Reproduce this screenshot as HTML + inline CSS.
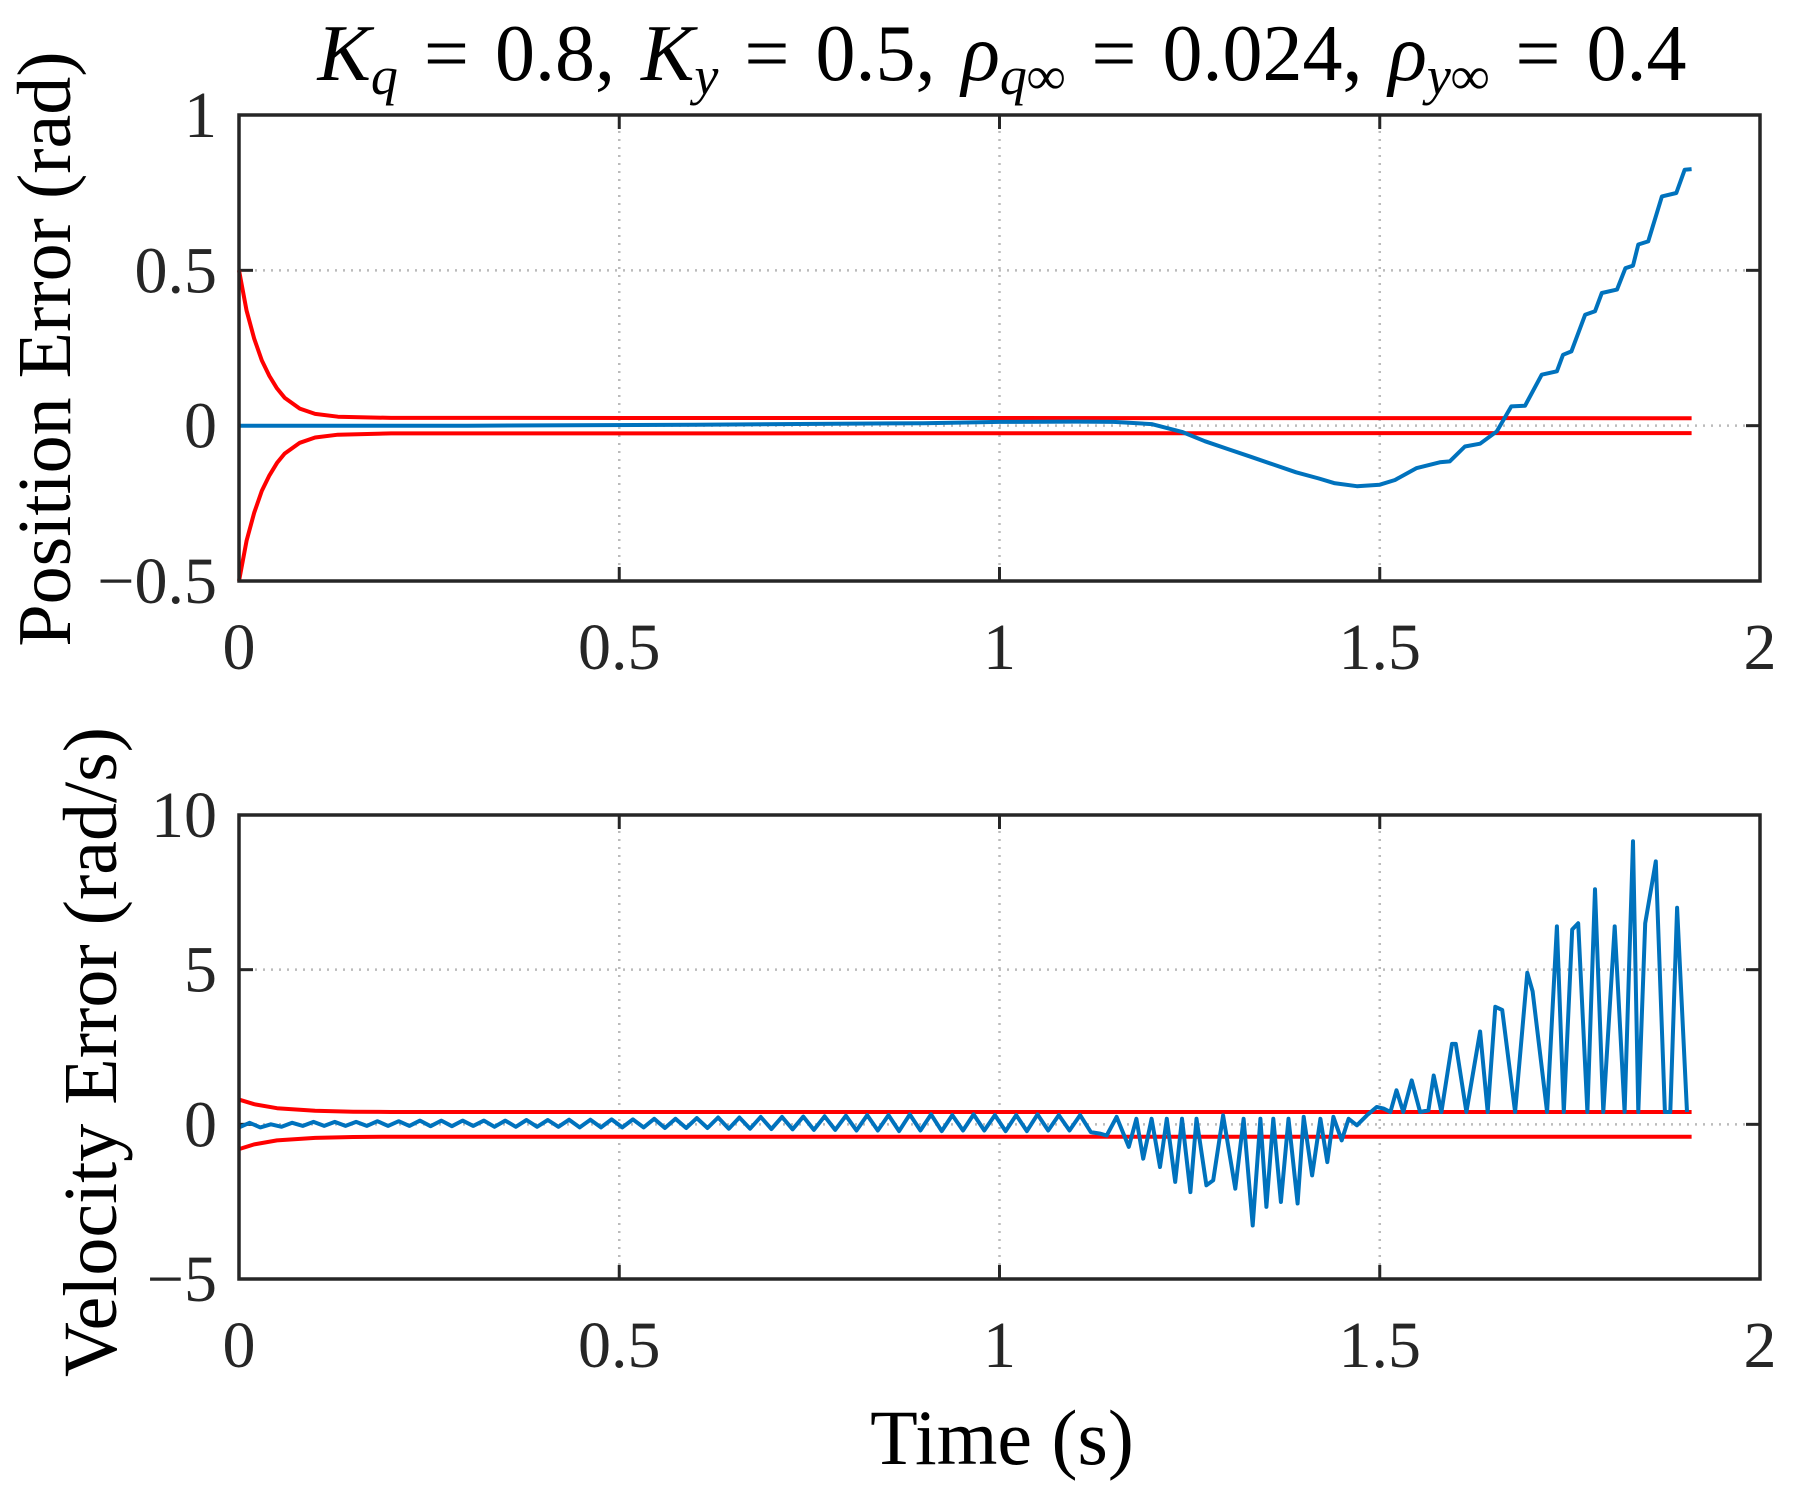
<!DOCTYPE html>
<html><head><meta charset="utf-8"><style>
body{margin:0;background:#fff;}
svg{display:block;font-family:"Liberation Serif",serif;}
</style></head><body>
<svg id="chart" width="1793" height="1494" viewBox="0 0 1793 1494">
<text x="1002" y="80" font-size="80" word-spacing="6" text-anchor="middle" font-style="italic">K<tspan font-size="54" dy="14">q</tspan><tspan dy="-14" font-style="normal"> = 0.8, </tspan>K<tspan font-size="54" dy="14">y</tspan><tspan dy="-14" font-style="normal"> = 0.5, </tspan>ρ<tspan font-size="54" dy="14">q∞</tspan><tspan dy="-14" font-style="normal"> = 0.024, </tspan>ρ<tspan font-size="54" dy="14">y∞</tspan><tspan dy="-14" font-style="normal"> = 0.4</tspan></text>
<g id="top"></g>
<g id="bot"></g>
<text x="1002" y="1464" font-size="78" text-anchor="middle">Time (s)</text>
<text transform="translate(70,349) rotate(-90)" font-size="76" text-anchor="middle">Position Error (rad)</text>
<text transform="translate(116,1052) rotate(-90)" font-size="76" text-anchor="middle">Velocity Error (rad/s)</text>
</svg>
<script>
const xTicks=[0,0.5,1,1.5,2];
const xTickLabels=["0","0.5","1","1.5","2"];
const posTicks=[-0.5,0,0.5,1];
const posTickLabels=["\u22120.5","0","0.5","1"];
const velTicks=[-5,0,5,10];
const velTickLabels=["\u22125","0","5","10"];
// position error (blue)
const posT=[0,0.3,0.6,0.9,1.0,1.1,1.15,1.2,1.24,1.27,1.3,1.33,1.36,1.39,1.42,1.44,1.47,1.5,1.52,1.548,1.579,1.592,1.612,1.632,1.654,1.673,1.691,1.713,1.733,1.741,1.752,1.770,1.783,1.792,1.812,1.823,1.833,1.840,1.853,1.871,1.890,1.901,1.910];
const posV=[0,0,0.003,0.008,0.012,0.013,0.012,0.005,-0.02,-0.05,-0.075,-0.1,-0.125,-0.15,-0.17,-0.185,-0.195,-0.19,-0.175,-0.137,-0.118,-0.115,-0.067,-0.058,-0.018,0.062,0.064,0.164,0.175,0.228,0.239,0.357,0.368,0.427,0.438,0.507,0.515,0.583,0.593,0.738,0.749,0.824,0.826];
// position bound (red, symmetric)
const posBoundT=[0,0.01,0.02,0.03,0.04,0.05,0.06,0.08,0.1,0.13,0.2,1.91];
const posBoundV=[0.5,0.37,0.28,0.21,0.16,0.12,0.09,0.055,0.038,0.029,0.025,0.024];
// velocity error early segment (uniform step)
const velEarlyStep=0.014;
const velEarly=[-0.1,0.05,-0.1,0.0,-0.08,0.05,-0.05,0.08,-0.05,0.08,-0.05,
0.08,-0.05,0.1,-0.05,0.1,-0.05,0.12,-0.06,0.12,-0.06,0.12,-0.05,0.12,-0.08,0.12,-0.08,0.14,-0.08,0.14,-0.08,
0.15,-0.1,0.15,-0.1,0.16,-0.1,0.16,-0.1,0.18,-0.12,0.18,-0.12,0.2,-0.12,0.22,-0.14,0.22,-0.14,0.24,-0.15,
0.24,-0.16,0.25,-0.18,0.26,-0.18,0.28,-0.2,0.3,-0.2,0.3,-0.22,0.32,-0.2,0.32,-0.22,0.3,-0.2,0.32,-0.2,
0.3,-0.22,0.3,-0.22,0.32,-0.2,0.3,-0.2,0.3,-0.25];
const velLateT=[1.132,1.141,1.154,1.170,1.180,1.189,1.200,1.211,1.220,1.231,1.240,1.251,1.259,1.272,1.281,1.294,1.310,1.321,1.333,1.343,1.351,1.360,1.370,1.380,1.392,1.400,1.411,1.422,1.431,1.439,1.450,1.459,1.470,1.483,1.496,1.505,1.514,1.522,1.531,1.542,1.553,1.564,1.571,1.581,1.595,1.600,1.614,1.632,1.642,1.652,1.661,1.678,1.694,1.701,1.720,1.733,1.742,1.753,1.761,1.773,1.783,1.794,1.809,1.822,1.833,1.840,1.849,1.863,1.875,1.882,1.891,1.904];
const velLateV=[-0.3,-0.36,0.24,-0.73,0.18,-1.11,0.18,-1.38,0.18,-1.86,0.18,-2.19,0.18,-1.97,-1.81,0.29,-2.08,0.18,-3.27,0.18,-2.67,0.18,-2.51,0.18,-2.56,0.24,-1.65,0.18,-1.22,0.24,-0.52,0.18,-0.03,0.29,0.56,0.51,0.4,1.1,0.4,1.42,0.4,0.45,1.58,0.4,2.6,2.6,0.4,3.0,0.4,3.8,3.7,0.4,4.9,4.3,0.4,6.4,0.4,6.3,6.5,0.4,7.6,0.4,6.4,0.4,9.15,0.4,6.5,8.5,0.4,0.4,7.0,0.4];
const velBoundT=[0,0.02,0.05,0.1,0.15,0.2,1.91];
const velBoundV=[0.8,0.65,0.52,0.44,0.41,0.4,0.4];

const NS="http://www.w3.org/2000/svg";
function mk(tag,attrs,parent){const e=document.createElementNS(NS,tag);for(const k in attrs)e.setAttribute(k,attrs[k]);parent.appendChild(e);return e;}
const X0=239,X1=1760;
const xs=t=>X0+(t-0)/(2-0)*(X1-X0);

function axes(g,top,bottom,ymin,ymax,yt,ytl,prefix){
  const ys=v=>bottom-(v-ymin)/(ymax-ymin)*(bottom-top);
  xTicks.forEach(t=>{if(t>0&&t<2){const l=mk('line',{x1:xs(t),x2:xs(t),y1:top,y2:bottom,stroke:'#bbb','stroke-width':2.5,'stroke-dasharray':'2 6'},g);
    
    }});
  yt.forEach(v=>{if(v>ymin&&v<ymax){const l=mk('line',{x1:X0,x2:X1,y1:ys(v),y2:ys(v),stroke:'#bbb','stroke-width':2.5,'stroke-dasharray':'2 6'},g);
    
    }});
  xTicks.forEach((t,i)=>{
    mk('line',{x1:xs(t),x2:xs(t),y1:bottom,y2:bottom-14,stroke:'#262626','stroke-width':3},g);
    mk('line',{x1:xs(t),x2:xs(t),y1:top,y2:top+14,stroke:'#262626','stroke-width':3},g);
    const tx=mk('text',{x:xs(t),y:bottom+88,'font-size':66,'text-anchor':'middle',fill:'#262626'},g);
    tx.textContent=xTickLabels[i];
    
    
  });
  yt.forEach((v,i)=>{
    mk('line',{x1:X0,x2:X0+14,y1:ys(v),y2:ys(v),stroke:'#262626','stroke-width':3},g);
    mk('line',{x1:X1,x2:X1-14,y1:ys(v),y2:ys(v),stroke:'#262626','stroke-width':3},g);
    const tx=mk('text',{x:X0-22,y:ys(v)+22,'font-size':66,'text-anchor':'end',fill:'#262626'},g);
    tx.textContent=ytl[i];
    
    
  });
  return ys;
}
function line(g,T,V,ys,color,w,name,sign){
  const d=T.map((t,i)=>(i?'L':'M')+xs(t).toFixed(1)+','+ys(sign*V[i]).toFixed(1)).join('');
  const p=mk('path',{d:d,fill:'none',stroke:color,'stroke-width':w,'stroke-linejoin':'round'},g);
  
  
}
const gt=document.getElementById('top'),gb=document.getElementById('bot');
const ys1=axes(gt,115,581,-0.5,1,posTicks,posTickLabels,'position');
line(gt,posBoundT,posBoundV,ys1,'#ff0000',4,'position-upper-bound',1);
line(gt,posBoundT,posBoundV,ys1,'#ff0000',4,'position-lower-bound',-1);
line(gt,posT,posV,ys1,'#0072bd',4,'position-error-line',1);
mk('rect',{x:X0,y:115,width:X1-X0,height:466,fill:'none',stroke:'#262626','stroke-width':3.5},gt);

const ys2=axes(gb,815,1279,-5,10,velTicks,velTickLabels,'velocity');
line(gb,velBoundT,velBoundV,ys2,'#ff0000',4,'velocity-upper-bound',1);
line(gb,velBoundT,velBoundV,ys2,'#ff0000',4,'velocity-lower-bound',-1);
const vT=velEarly.map((v,i)=>i*velEarlyStep).concat(velLateT);
const vV=velEarly.concat(velLateV);
line(gb,vT,vV,ys2,'#0072bd',4,'velocity-error-line',1);
mk('rect',{x:X0,y:815,width:X1-X0,height:464,fill:'none',stroke:'#262626','stroke-width':3.5},gb);
</script>
</body></html>
